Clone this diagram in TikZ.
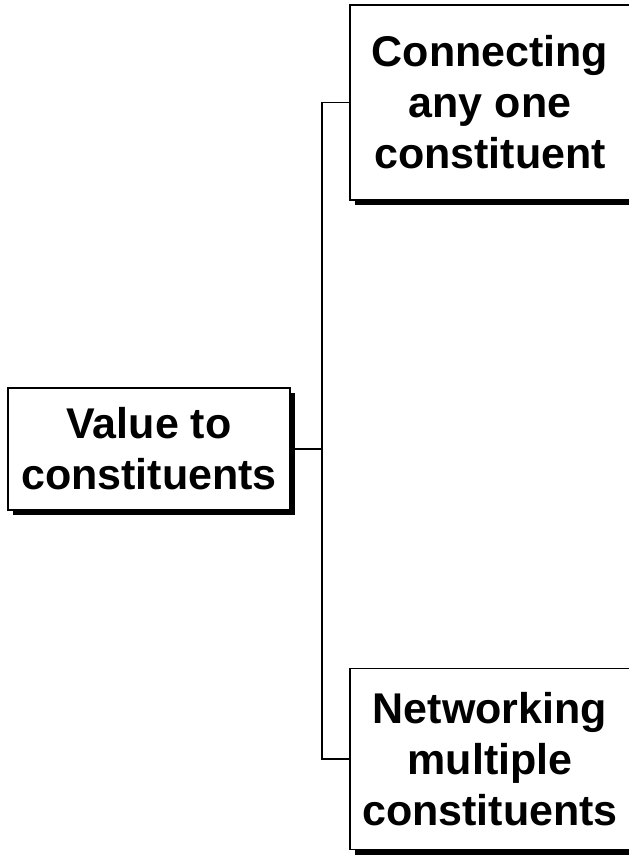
\documentclass[tikz,border=0pt]{standalone}
\usepackage{fontspec}
\setmainfont{Liberation Sans}
\usetikzlibrary{shadows}
\begin{document}
\begin{tikzpicture}[x=1pt,y=-1pt,
  box/.style={draw=black, line width=1.8pt, fill=white, inner sep=0pt,
    align=center, font=\fontsize{43}{51}\selectfont\bfseries,
    general shadow={fill=black, shadow xshift=5pt, shadow yshift=-5pt}},
  link/.style={draw=black, line width=1.5pt}]
\useasboundingbox (0,0) rectangle (629,855);
\begin{scope}
\clip (0,0) rectangle (629,855);
\node[box, minimum width=282pt, minimum height=122pt] (L) at (149,449) {Value to\\constituents};
\node[box, minimum width=280pt, minimum height=195pt] (T) at (490,102.5) {Connecting\\any one\\constituent};
\node[box, minimum width=280pt, minimum height=181pt] (B) at (490,759) {Networking\\multiple\\constituents};
\coordinate (J) at (322,449);
\draw[link] (L.east) -- (J);
\draw[link] (T.west) -| (J) |- (B.west);
\end{scope}
\end{tikzpicture}
\end{document}
